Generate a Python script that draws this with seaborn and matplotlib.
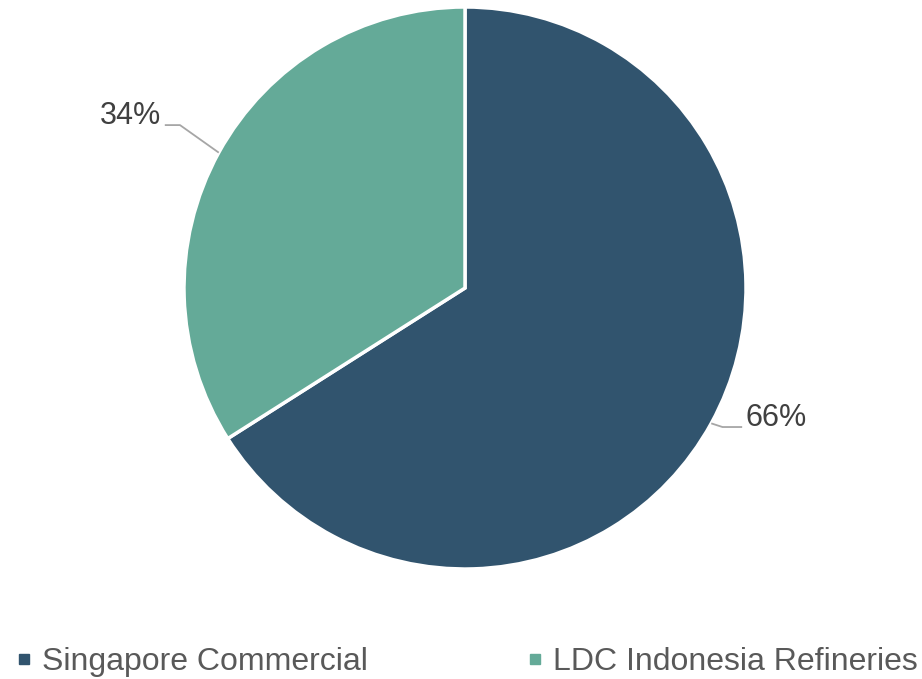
import numpy as np
import seaborn as sns
from matplotlib import pyplot as plt
from matplotlib.lines import Line2D

# data
segments = ["Singapore Commercial", "LDC Indonesia Refineries"]
shares = [66, 34]
colours = ["#31546E", "#64AA98"]

sns.set_theme(style="white")
plt.rcParams['font.family'] = ['Liberation Sans', 'DejaVu Sans']

W, H = 922, 679
fig = plt.figure(figsize=(W / 100, H / 100), dpi=100)

# pie centre and radius in pixels
cx, cy, R, half = 465, 288, 281, 300
ax = fig.add_axes([(cx - half) / W, (H - cy - half) / H, 2 * half / W, 2 * half / H])

wedges, _ = ax.pie(shares, colors=colours, startangle=90, counterclock=False,
                   radius=1.0, wedgeprops=dict(edgecolor="white", linewidth=2.5))
lim = half / R
ax.set_xlim(-lim, lim)
ax.set_ylim(-lim, lim)
ax.set_aspect("equal")
ax.axis("off")

# leader line layout per label: elbow offset from wedge edge, horizontal tail length
leader = [(0.04, -0.013, 0.07), (-0.138, 0.098, 0.054)]

total = sum(shares)
start = 90.0
for val, (dx, dy, tail) in zip(shares, leader):
    sweep = 360.0 * val / total
    mid = np.deg2rad(start - sweep / 2)
    start -= sweep
    x0, y0 = np.cos(mid), np.sin(mid)
    side = np.sign(x0)
    ex, ey = x0 + dx, y0 + dy
    hx = ex + side * tail
    ax.plot([x0, ex, hx], [y0, ey, ey], color="#A6A6A6", lw=1.3, clip_on=False,
            solid_capstyle="butt")
    ax.text(hx + side * 0.012, ey + 0.032, f"{val}%", fontsize=22, color="#404040",
            ha="left" if side > 0 else "right", va="center", clip_on=False)

handles = [Line2D([], [], marker="s", ls="", color=c, markersize=7.5) for c in colours]
fig.legend(handles, segments, loc="center", bbox_to_anchor=(0.5065, 1 - 662 / H), ncol=2,
           frameon=False, fontsize=23, labelcolor="#595959", handlelength=0.5,
           handletextpad=0.3, columnspacing=5.0, borderaxespad=0)

fig.savefig("out.png", dpi=100)
